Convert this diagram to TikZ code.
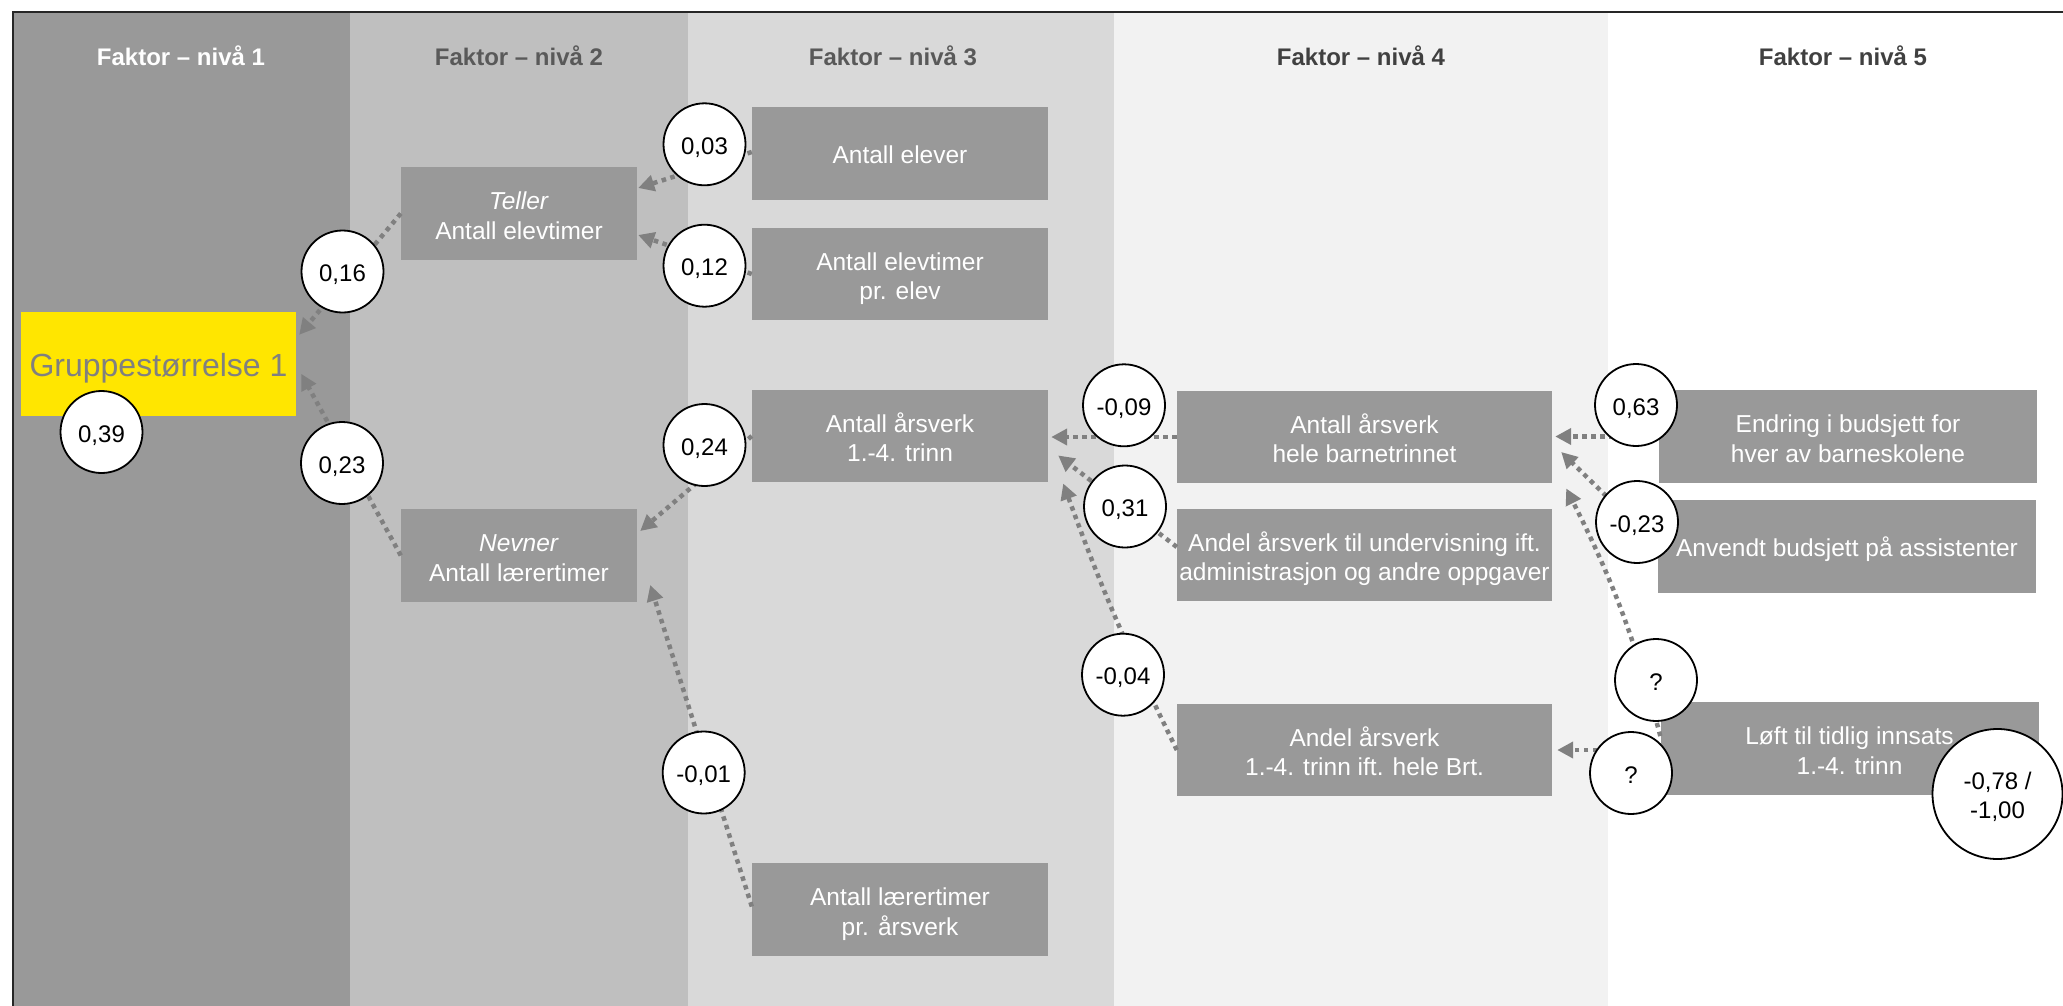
\documentclass[tikz,border=0pt]{standalone}
\usepackage{fontspec}
\setmainfont{Liberation Sans}
\usetikzlibrary{arrows.meta,calc}
\definecolor{lvA}{HTML}{999999}
\definecolor{lvB}{HTML}{BFBFBF}
\definecolor{lvC}{HTML}{D9D9D9}
\definecolor{lvD}{HTML}{F2F2F2}
\definecolor{boxgray}{HTML}{999999}
\definecolor{conngray}{HTML}{808080}
\definecolor{gulfarge}{HTML}{FFE600}
\definecolor{headA}{HTML}{595959}
\definecolor{headB}{HTML}{404040}
\definecolor{grptext}{HTML}{808080}
\begin{document}
\begin{tikzpicture}[x=1pt,y=-1pt,
  fbox/.style={fill=boxgray, text=white, minimum height=92.5pt, inner sep=0pt, align=center,
    font=\fontsize{24.5}{29.5}\selectfont, text height=51pt, text depth=0pt},
  oneline/.style={text height=20pt, text depth=0pt},
  lvltwo/.style={fbox, minimum width=236pt},
  lvlthree/.style={fbox, minimum width=296pt},
  lvlfour/.style={fbox, minimum width=375pt},
  lvlfive/.style={fbox, minimum width=378pt},
  val/.style={circle, draw=black, line width=1.8pt, fill=white, minimum size=82pt, inner sep=0pt,
    align=center, font=\fontsize{24}{28.5}\selectfont, text height=20pt, text depth=0pt},
  bigval/.style={val, minimum size=130pt, text height=48.5pt, text depth=0pt},
  conn/.style={draw=conngray, line width=4.5pt, dash pattern=on 4.5pt off 4.5pt,
    -{Triangle[length=16pt,width=16pt]}},
  head/.style={font=\fontsize{24}{28}\selectfont\bfseries, anchor=base},
]
\useasboundingbox (0,0) rectangle (2063,1006);
\fill[white] (0,0) rectangle (2063,1006);
% bands
\fill[lvA] (12.5,12) rectangle (350,1006);
\fill[lvB] (350,12) rectangle (688,1006);
\fill[lvC] (688,12) rectangle (1114,1006);
\fill[lvD] (1114,12) rectangle (1608,1006);
\draw[line width=2pt, black!85] (12.5,1006) -- (12.5,12) -- (2063,12);
% headings
\node[head, text=white] (h1) at (181,65.5) {Faktor – nivå 1};
\node[head, text=headA] (h2) at (519,65.5) {Faktor – nivå 2};
\node[head, text=headA] (h3) at (893,65.5) {Faktor – nivå 3};
\node[head, text=headB] (h4) at (1361,65.5) {Faktor – nivå 4};
\node[head, text=headB] (h5) at (1843,65.5) {Faktor – nivå 5};
% boxes
\node[fill=gulfarge, minimum width=275pt, minimum height=104pt, inner sep=0pt, text=grptext,
  font=\fontsize{32}{38}\selectfont, text height=24pt, text depth=0pt] (grp) at (158.5,364) {Gruppestørrelse 1};
\node[lvltwo] (teller) at (519,213.5) {\textit{Teller}\\Antall elevtimer};
\node[lvltwo] (nevner) at (519,555.5) {\textit{Nevner}\\Antall lærertimer};
\node[lvlthree, oneline] (elever) at (900,153.5) {Antall elever};
\node[lvlthree] (elevtimer) at (900,274) {Antall elevtimer\\pr. elev};
\node[lvlthree] (aarsverkA) at (900,436) {Antall årsverk\\1.-4. trinn};
\node[lvlthree] (laerertimer) at (900,909.5) {Antall lærertimer\\pr. årsverk};
\node[lvlfour] (aarsverkB) at (1364.5,437) {Antall årsverk\\hele barnetrinnet};
\node[lvlfour] (andelund) at (1364.5,555) {Andel årsverk til undervisning ift.\\administrasjon og andre oppgaver};
\node[lvlfour] (andelA) at (1364.5,750) {Andel årsverk\\1.-4. trinn ift. hele Brt.};
\node[lvlfive] (endring) at (1848,436.5) {Endring i budsjett for\\hver av barneskolene};
\node[lvlfive, oneline] (anvendt) at (1847,546.5) {Anvendt budsjett på assistenter};
\node[lvlfive] (loft) at (1849.5,748.5) {Løft til tidlig innsats\\1.-4. trinn};
% connectors
\draw[conn] (teller.west) -- ([xshift=3pt,yshift=-23pt]grp.north east);
\draw[conn] (nevner.west) -- ([xshift=5pt,yshift=-62pt]grp.north east);
\draw[conn] ([yshift=1.5pt]elever.west) -- ([xshift=1pt,yshift=25.5pt]teller.east);
\draw[conn] (elevtimer.west) -- ([xshift=1pt,yshift=-21.5pt]teller.east);
\draw[conn] (aarsverkA.west) -- ([xshift=3pt,yshift=24.5pt]nevner.east);
\draw[conn] ([yshift=3pt]laerertimer.west) -- ([xshift=13pt,yshift=17pt]nevner.south east);
\draw[conn] (aarsverkB.west) -- ($(aarsverkA.east |- aarsverkB.west)+(3,0)$);
\draw[conn] ([yshift=8pt]andelund.west) -- ([xshift=10pt,yshift=27pt]aarsverkA.south east);
\draw[conn] (andelA.west) to[bend left=3] ([xshift=15pt,yshift=-1pt]aarsverkA.south east);
\draw[conn] (endring.west) -- ($(aarsverkB.east |- endring.west)+(3,0)$);
\draw[conn] (anvendt.west) -- ([xshift=9pt,yshift=-15pt]aarsverkB.east);
\draw[conn] ([yshift=-34pt]loft.north west) to[bend right=6] ([xshift=14pt,yshift=-5pt]aarsverkB.south east);
\draw[conn] ([yshift=-1.5pt]loft.west) -- ($(andelA.east |- loft.west)+(5,1.5)$);
% value circles
\node[val] (v39) at (101.5,432) {0,39};
\node[val] (v16) at (342.5,271.5) {0,16};
\node[val] (v23) at (342,463) {0,23};
\node[val] (v03) at (704.5,144.3) {0,03};
\node[val] (v12) at (704.5,265.7) {0,12};
\node[val] (v24) at (704.5,445) {0,24};
\node[val] (v01) at (703.7,772.5) {-0,01};
\node[val] (v09) at (1124,405.3) {-0,09};
\node[val] (v31) at (1125,506.5) {0,31};
\node[val] (v04) at (1123,674.7) {-0,04};
\node[val] (v63) at (1636,405) {0,63};
\node[val] (v23b) at (1637,522) {-0,23};
\node[val] (vq1) at (1656,680) {?};
\node[val] (vq2) at (1631,773) {?};
\node[bigval] (v78) at (1997.5,794) {-0,78 /\\-1,00};
\end{tikzpicture}
\end{document}
